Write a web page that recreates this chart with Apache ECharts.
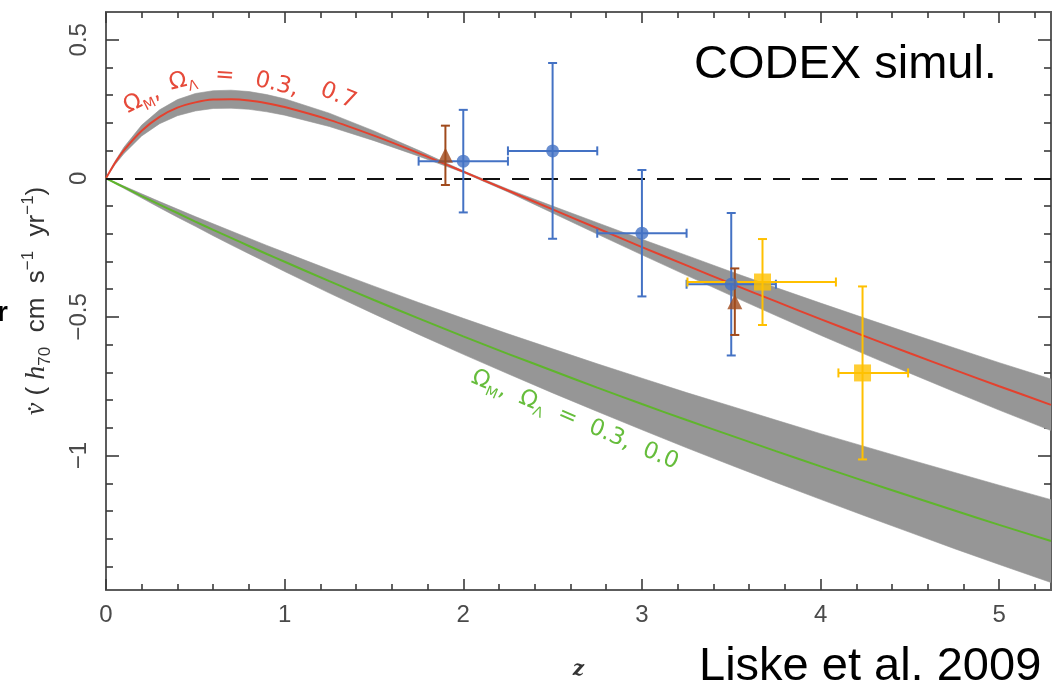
<!DOCTYPE html>
<html><head><meta charset="utf-8">
<script src="https://cdn.jsdelivr.net/npm/echarts@6/dist/echarts.min.js"></script>
<style>html,body{margin:0;padding:0;background:#fff;overflow:hidden}#c{width:1058px;height:685px}</style>
</head><body><div id="c"></div>
<script>
// ---- data ----
const zGrid   = [0, 0.05, 0.1, 0.2, 0.3, 0.4, 0.5, 0.6, 0.7, 0.8, 0.9, 1.0, 1.25, 1.5, 1.75, 2.0, 2.25, 2.5, 2.75, 3.0, 3.25, 3.5, 3.75, 4.0, 4.25, 4.5, 4.75, 5.0, 5.29];
const redV    = [0, 0.055, 0.101, 0.172, 0.222, 0.255, 0.274, 0.284, 0.285, 0.281, 0.271, 0.257, 0.211, 0.154, 0.091, 0.024, -0.044, -0.112, -0.180, -0.248, -0.314, -0.380, -0.444, -0.508, -0.570, -0.631, -0.691, -0.750, -0.817];
const redLo   = [0, 0.049, 0.089, 0.153, 0.197, 0.226, 0.243, 0.252, 0.253, 0.249, 0.240, 0.228, 0.187, 0.136, 0.080, 0.021, -0.049, -0.125, -0.201, -0.276, -0.350, -0.423, -0.495, -0.566, -0.635, -0.703, -0.770, -0.836, -0.910];
const redHi   = [0, 0.061, 0.112, 0.192, 0.247, 0.284, 0.306, 0.316, 0.318, 0.313, 0.302, 0.287, 0.235, 0.171, 0.101, 0.027, -0.039, -0.100, -0.160, -0.220, -0.278, -0.337, -0.394, -0.450, -0.505, -0.559, -0.612, -0.665, -0.724];
const greenV  = [0, -0.016, -0.032, -0.064, -0.095, -0.125, -0.156, -0.186, -0.215, -0.244, -0.273, -0.301, -0.371, -0.439, -0.505, -0.570, -0.633, -0.694, -0.755, -0.814, -0.872, -0.928, -0.984, -1.039, -1.093, -1.146, -1.198, -1.250, -1.308];
const greenLo = [0, -0.018, -0.036, -0.071, -0.106, -0.140, -0.173, -0.207, -0.240, -0.272, -0.304, -0.336, -0.414, -0.489, -0.563, -0.635, -0.705, -0.774, -0.841, -0.907, -0.972, -1.035, -1.097, -1.158, -1.218, -1.277, -1.336, -1.393, -1.458];
const greenHi = [0, -0.014, -0.028, -0.056, -0.084, -0.111, -0.138, -0.164, -0.190, -0.216, -0.242, -0.267, -0.329, -0.389, -0.448, -0.505, -0.561, -0.615, -0.669, -0.721, -0.773, -0.822, -0.872, -0.921, -0.968, -1.015, -1.061, -1.107, -1.159];

const blueZ    = [2.0, 2.5, 3.0, 3.5];
const blueV    = [0.062, 0.099, -0.198, -0.382];
const blueZerr = [0.25, 0.25, 0.25, 0.25];
const blueVerr = [0.185, 0.317, 0.228, 0.257];

const brownZ    = [1.9, 3.52];
const brownV    = [0.083, -0.445];
const brownVerr = [0.107, 0.12];

const goldZ    = [3.675, 4.235];
const goldV    = [-0.374, -0.702];
const goldZlo  = [3.255, 4.10];
const goldZhi  = [4.086, 4.49];
const goldVerr = [0.155, 0.312];

const xMajor = [0, 1, 2, 3, 4, 5];
const xMinor = [0.2, 0.4, 0.6, 0.8, 1.2, 1.4, 1.6, 1.8, 2.2, 2.4, 2.6, 2.8, 3.2, 3.4, 3.6, 3.8, 4.2, 4.4, 4.6, 4.8, 5.2];
const yMajor = [-1, -0.5, 0, 0.5];
const yMinor = [-1.4, -1.3, -1.2, -1.1, -0.9, -0.8, -0.7, -0.6, -0.4, -0.3, -0.2, -0.1, 0.1, 0.2, 0.3, 0.4];
const xLabels = ['0', '1', '2', '3', '4', '5'];
const yLabels = ['\u22121', '\u22120.5', '0', '0.5'];

const X_MIN = 0, X_MAX = 5.29, Y_MIN = -1.485, Y_MAX = 0.6;

// ---- build ----
const pairs = (xs, ys) => xs.map((x, i) => [x, ys[i]]);

const AX_COL = '#5c5c5c', TK_COL = '#3a3a3a';
function xAx(pos, vals, len, labels) {
  return {
    type: 'value', position: pos, min: X_MIN, max: X_MAX,
    axisLine: { show: !!labels || pos === 'top', onZero: false, lineStyle: { color: AX_COL, width: 2 } },
    axisTick: { show: true, inside: true, length: len, customValues: vals, lineStyle: { color: TK_COL, width: 1.6 } },
    axisLabel: labels ? {
      show: true, customValues: xMajor, margin: 13, color: '#4a4a4a', fontSize: 24, fontFamily: 'Liberation Sans',
      formatter: v => xLabels[xMajor.indexOf(Math.round(v))]
    } : { show: false },
    splitLine: { show: false },
    name: labels ? 'z' : '', nameLocation: 'middle', nameGap: 70,
    nameTextStyle: { fontFamily: 'DejaVu Serif', fontStyle: 'italic', fontWeight: 'bold', fontSize: 20, color: '#333' }
  };
}
function yAx(pos, vals, len, labels) {
  return {
    type: 'value', position: pos, min: Y_MIN, max: Y_MAX,
    axisLine: { show: !!labels || pos === 'right', onZero: false, lineStyle: { color: AX_COL, width: 2 } },
    axisTick: { show: true, inside: true, length: len, customValues: vals, lineStyle: { color: TK_COL, width: 1.6 } },
    axisLabel: labels ? {
      show: true, customValues: yMajor, rotate: 90, margin: 15, color: '#4a4a4a', fontSize: 24, fontFamily: 'Liberation Sans',
      formatter: v => yLabels[yMajor.indexOf(Math.round(v * 2) / 2)]
    } : { show: false },
    splitLine: { show: false },
    name: labels ? '{i|v\u0307} ( {i|h}{sub|70}  cm  s{sup|\u22121}  yr{sup|\u22121})' : '',
    nameLocation: 'middle', nameRotate: 90, nameGap: 52,
    nameTextStyle: {
      fontFamily: 'Liberation Sans', fontSize: 26, color: '#333',
      rich: {
        i: { fontFamily: 'Liberation Serif', fontStyle: 'italic', fontSize: 28, color: '#333', lineHeight: 34 },
        sub: { fontFamily: 'Liberation Sans', fontSize: 17, color: '#333', verticalAlign: 'bottom', lineHeight: 17 },
        sup: { fontFamily: 'Liberation Sans', fontSize: 17, color: '#333', verticalAlign: 'top', lineHeight: 17 }
      }
    }
  };
}

// shaded band: one polygon through the band edges, mapped with the axes' scales
function bandSeries(zs, lo, hi) {
  return {
    type: 'custom', silent: true, z: 1,
    data: [[zs[0], lo[0]]],
    renderItem: function (params, api) {
      const pts = [];
      for (let i = 0; i < zs.length; i++) pts.push(api.coord([zs[i], hi[i]]));
      for (let i = zs.length - 1; i >= 0; i--) pts.push(api.coord([zs[i], lo[i]]));
      return { type: 'polygon', shape: { points: pts }, style: { fill: '#969696', stroke: '#969696', lineWidth: 0.6 } };
    },
    clip: true
  };
}

function errRender(params, api) {
  const z = api.value(0), v = api.value(1), zl = api.value(2), zh = api.value(3), vl = api.value(4), vh = api.value(5);
  const col = api.visual('color');
  const st = { stroke: col, lineWidth: 2 };
  const cap = 4.5;
  const ch = [];
  if (vh > vl) {
    const a = api.coord([z, vl]), b = api.coord([z, vh]);
    ch.push({ type: 'line', shape: { x1: a[0], y1: a[1], x2: b[0], y2: b[1] }, style: st });
    ch.push({ type: 'line', shape: { x1: a[0] - cap, y1: a[1], x2: a[0] + cap, y2: a[1] }, style: st });
    ch.push({ type: 'line', shape: { x1: b[0] - cap, y1: b[1], x2: b[0] + cap, y2: b[1] }, style: st });
  }
  if (zh > zl) {
    const a = api.coord([zl, v]), b = api.coord([zh, v]);
    ch.push({ type: 'line', shape: { x1: a[0], y1: a[1], x2: b[0], y2: b[1] }, style: st });
    ch.push({ type: 'line', shape: { x1: a[0], y1: a[1] - cap, x2: a[0], y2: a[1] + cap }, style: st });
    ch.push({ type: 'line', shape: { x1: b[0], y1: b[1] - cap, x2: b[0], y2: b[1] + cap }, style: st });
  }
  return { type: 'group', children: ch };
}
function errSeries(color, zs, vs, zlo, zhi, verr) {
  return {
    type: 'custom', renderItem: errRender, itemStyle: { color }, silent: true,
    encode: { x: [0, 2, 3], y: [1, 4, 5] },
    data: zs.map((z, i) => [z, vs[i], zlo[i], zhi[i], +(vs[i] - verr[i]).toFixed(4), +(vs[i] + verr[i]).toFixed(4)]),
    z: 5
  };
}

const RED = '#e4412e', GREEN = '#5fb52c';
const labRich = (c) => ({
  t: { fontFamily: 'DejaVu Sans', fontSize: 23, color: c, lineHeight: 30 },
  s: { fontFamily: 'DejaVu Sans', fontSize: 14, color: c, verticalAlign: 'bottom', lineHeight: 14 }
});
const mp = (coord, text, rot) => ({ coord, value: 0, label: { formatter: text, rotate: rot } });

const option = {
  animation: false,
  backgroundColor: '#ffffff',
  grid: { left: 106, right: 7, top: 12, bottom: 92, containLabel: false },
  xAxis: [xAx('bottom', xMajor, 11, true), xAx('bottom', xMinor, 6, false), xAx('top', xMajor, 11, false), xAx('top', xMinor, 6, false)],
  yAxis: [yAx('left', yMajor, 13, true), yAx('left', yMinor, 7, false), yAx('right', yMajor, 13, false), yAx('right', yMinor, 7, false)],
  title: [
    { text: 'CODEX simul.', left: 689, top: 37, textStyle: { fontFamily: 'Liberation Sans', fontWeight: 'normal', fontSize: 47, color: '#000' } },
    { text: 'Liske et al. 2009', left: 694, top: 639, textStyle: { fontFamily: 'Liberation Sans', fontWeight: 'normal', fontSize: 47, color: '#000' } },
    { text: 'r', left: -8, top: 294, textStyle: { fontFamily: 'Liberation Sans', fontWeight: 'bold', fontSize: 28, color: '#000' } }
  ],
  series: [
    bandSeries(zGrid, redLo, redHi),
    bandSeries(zGrid, greenLo, greenHi),
    {
      type: 'line', name: 'zero', data: [], silent: true, z: 2,
      markLine: { silent: true, symbol: ['none', 'none'], label: { show: false }, animation: false,
        lineStyle: { color: '#111', width: 2, type: [17, 12] }, data: [{ yAxis: 0 }] }
    },
    {
      type: 'line', name: 'LCDM', data: pairs(zGrid, redV), showSymbol: false, symbol: 'none', smooth: 0.3, silent: true, z: 3,
      lineStyle: { color: RED, width: 2 },
      markPoint: {
        symbol: 'circle', symbolSize: 1, itemStyle: { color: 'rgba(0,0,0,0)' }, silent: true, animation: false,
        label: { show: true, position: 'inside', rich: labRich('#e64a3a') },
        data: [
          mp([0.200, 0.284], '{t|\u03A9}{s|M}{t|,}', 27),
          mp([0.430, 0.352], '{t|\u03A9}{s|\u039B}', 14),
          mp([0.665, 0.369], '{t|=}', -4),
          mp([0.955, 0.338], '{t|0.3,}', -13),
          mp([1.300, 0.297], '{t|0.7}', -22)
        ]
      }
    },
    {
      type: 'line', name: 'OCDM', data: pairs(zGrid, greenV), showSymbol: false, symbol: 'none', smooth: 0.3, silent: true, z: 3,
      lineStyle: { color: GREEN, width: 2 },
      markPoint: {
        symbol: 'circle', symbolSize: 1, itemStyle: { color: 'rgba(0,0,0,0)' }, silent: true, animation: false,
        label: { show: true, position: 'inside', rich: labRich('#66bd3c') },
        data: [
          mp([2.625, -0.872], '{t|\u03A9}{s|M}{t|,  \u03A9}{s|\u039B}{t|  =  0.3,  0.0}', -23)
        ]
      }
    },
    errSeries('#4472c4', blueZ, blueV, blueZ.map((z, i) => z - blueZerr[i]), blueZ.map((z, i) => z + blueZerr[i]), blueVerr),
    { type: 'scatter', name: 'blue', data: pairs(blueZ, blueV), symbol: 'circle', symbolSize: 13, itemStyle: { color: '#4472c4' }, silent: true, z: 6 },
    errSeries('#ffc000', goldZ, goldV, goldZlo, goldZhi, goldVerr),
    { type: 'scatter', name: 'gold', data: pairs(goldZ, goldV), symbol: 'rect', symbolSize: 17, itemStyle: { color: '#ffc000' }, silent: true, z: 6 },
    errSeries('#a04a1c', brownZ, brownV, brownZ, brownZ, brownVerr),
    { type: 'scatter', name: 'brown', data: pairs(brownZ, brownV), symbol: 'triangle', symbolSize: 15, itemStyle: { color: '#a04a1c' }, silent: true, z: 7 }
  ]
};

const chart = echarts.init(document.getElementById('c'), null, { renderer: 'canvas' });
chart.setOption(option);
</script>
</body></html>
